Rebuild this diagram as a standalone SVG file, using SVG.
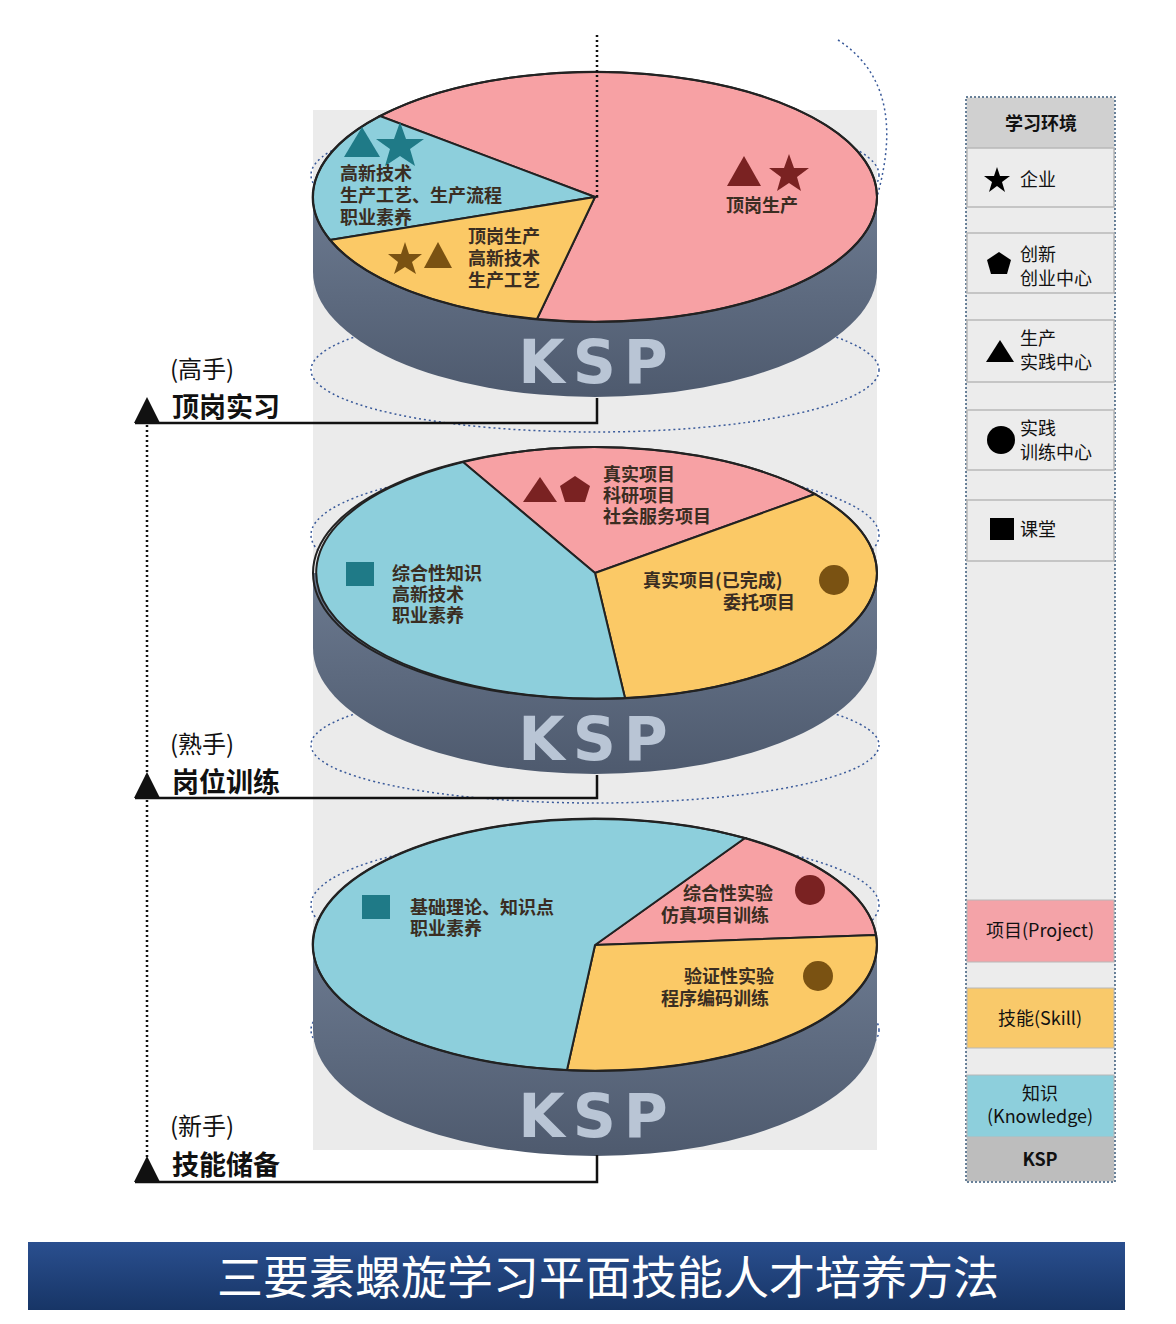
<svg xmlns="http://www.w3.org/2000/svg" width="1176" height="1324" viewBox="0 0 1176 1324">
<defs>
<linearGradient id="side" x1="0" y1="0" x2="0" y2="1"><stop offset="0" stop-color="#6c7a90"/><stop offset="1" stop-color="#4e5a6e"/></linearGradient>
<linearGradient id="ban" x1="0" y1="0" x2="0" y2="1"><stop offset="0" stop-color="#2a4f8f"/><stop offset="1" stop-color="#173566"/></linearGradient>
<style>
.sl{stroke:#222;stroke-width:2}
.pk{fill:#f7a1a4}.cy{fill:#8dcfdc}.yl{fill:#fbc966}
.t{font-family:"Noto Sans CJK SC",sans-serif;font-weight:bold;font-size:18px;fill:#3a2d22}
.ksp{font-family:"DejaVu Sans",sans-serif;font-weight:bold;font-size:60px;fill:#b9c5d5;letter-spacing:8px;text-anchor:middle}
.dot{fill:none;stroke:#3a5a9a;stroke-width:1.5;stroke-dasharray:2 3}
.lg{font-family:"Noto Sans CJK SC",sans-serif;font-size:18px;fill:#111}
.lab{font-family:"Noto Sans CJK SC",sans-serif;font-size:24px;fill:#111}
.labb{font-family:"Noto Sans CJK SC",sans-serif;font-size:27px;font-weight:bold;fill:#111}
.box{fill:#ececec;stroke:#b8b8b8;stroke-width:1.5}
</style>
</defs>
<rect width="1176" height="1324" fill="#fff"/>
<rect x="313" y="110" width="564" height="1040" fill="#ebebeb"/>
<g id="spiral">
<path class="dot" d="M838,40 C900,80 890,150 877,197"/>
<ellipse class="dot" cx="595" cy="175" rx="284" ry="65"/>
<ellipse class="dot" cx="595" cy="370" rx="284" ry="62"/>
<ellipse class="dot" cx="595" cy="535" rx="284" ry="70"/>
<ellipse class="dot" cx="595" cy="745" rx="284" ry="58"/>
<ellipse class="dot" cx="595" cy="905" rx="284" ry="70"/>
<ellipse class="dot" cx="595" cy="1030" rx="284" ry="65"/>
</g>
<g id="disc-top">
<path d="M313,197 L313,272 A282,125 0 0 0 877,272 L877,197 Z" fill="url(#side)"/>
<text class="ksp" x="597" y="383">KSP</text>
<path class="pk sl" d="M595,197 L380,116 A282,125 0 0 1 877,197 A282,125 0 0 1 537,319 Z"/>
<path class="cy sl" d="M595,197 L380,116 A282,125 0 0 0 330,240 Z"/>
<path class="yl sl" d="M595,197 L330,240 A282,125 0 0 0 537,319 Z"/>
<ellipse cx="595" cy="197" rx="282" ry="125" fill="none" stroke="#222" stroke-width="2"/>
<polygon points="362,127 344,157 380,157" fill="#1f7a87"/>
<polygon points="400,127 406,144 424,144 410,154 415,171 400,161 385,171 390,154 376,144 394,144" fill="#1f7a87" transform="translate(0,-5)"/>
<text class="t" x="340" y="180">高新技术</text>
<text class="t" x="340" y="202">生产工艺、生产流程</text>
<text class="t" x="340" y="224">职业素养</text>
<polygon points="405,242 409,254 422,254 412,262 416,274 405,267 394,274 398,262 388,254 401,254" fill="#7a5212"/>
<polygon points="438,242 424,268 452,268" fill="#7a5212"/>
<text class="t" x="468" y="243">顶岗生产</text>
<text class="t" x="468" y="265">高新技术</text>
<text class="t" x="468" y="287">生产工艺</text>
<polygon points="744,156 727,186 761,186" fill="#7a2222"/>
<polygon points="789,154 794,168 809,168 797,177 801,191 789,183 777,191 781,177 769,168 784,168" fill="#7a2222"/>
<text class="t" x="726" y="212">顶岗生产</text>
</g>
<g id="disc-mid">
<path d="M313,573 L313,648 A282,126 0 0 0 877,648 L877,573 Z" fill="url(#side)"/>
<text class="ksp" x="597" y="760">KSP</text>
<path class="pk sl" d="M595,573 L463,462 A282,126 0 0 1 815,494 Z"/>
<path class="yl sl" d="M595,573 L815,494 A282,126 0 0 1 625,698 Z"/>
<path class="cy sl" d="M595,573 L625,698 A282,126 0 0 1 463,462 Z"/>
<ellipse cx="595" cy="573" rx="282" ry="126" fill="none" stroke="#222" stroke-width="2"/>
<polygon points="540,477 523,502 557,502" fill="#7a2222"/>
<polygon points="575,476 590,486 585,502 565,502 560,486" fill="#7a2222"/>
<text class="t" x="603" y="481">真实项目</text>
<text class="t" x="603" y="502">科研项目</text>
<text class="t" x="603" y="523">社会服务项目</text>
<rect x="346" y="562" width="28" height="24" fill="#1f7a87"/>
<text class="t" x="392" y="580">综合性知识</text>
<text class="t" x="392" y="601">高新技术</text>
<text class="t" x="392" y="622">职业素养</text>
<text class="t" x="643" y="587">真实项目(已完成)</text>
<text class="t" x="723" y="609">委托项目</text>
<circle cx="834" cy="580" r="15" fill="#7a5212"/>
</g>
<g id="disc-bot">
<path d="M313,945 L313,1030 A282,126 0 0 0 877,1030 L877,945 Z" fill="url(#side)"/>
<text class="ksp" x="597" y="1137">KSP</text>
<path class="pk sl" d="M595,945 L745,838 A282,126 0 0 1 876,935 Z"/>
<path class="yl sl" d="M595,945 L876,935 A282,126 0 0 1 567,1070 Z"/>
<path class="cy sl" d="M595,945 L567,1070 A282,126 0 1 1 745,838 Z"/>
<ellipse cx="595" cy="945" rx="282" ry="126" fill="none" stroke="#222" stroke-width="2"/>
<rect x="362" y="895" width="28" height="24" fill="#1f7a87"/>
<text class="t" x="410" y="914">基础理论、知识点</text>
<text class="t" x="410" y="935">职业素养</text>
<text class="t" x="683" y="900">综合性实验</text>
<text class="t" x="661" y="922">仿真项目训练</text>
<circle cx="810" cy="890" r="15" fill="#7a2222"/>
<text class="t" x="684" y="983">验证性实验</text>
<text class="t" x="661" y="1005">程序编码训练</text>
<circle cx="818" cy="976" r="15" fill="#7a5212"/>
</g>
<g id="connectors" fill="none">
<path d="M597,35 V197" stroke="#111" stroke-width="2.5" stroke-dasharray="2 3"/>
<path d="M147,415 V1170" stroke="#111" stroke-width="2.5" stroke-dasharray="2 3"/>
<path d="M135,423 H597 V398 M135,798 H597 V775 M135,1182 H597 V1155" stroke="#111" stroke-width="2.5"/>
</g>
<g id="stages">
<polygon points="147,397 134,423 160,423" fill="#111"/>
<polygon points="147,772 134,798 160,798" fill="#111"/>
<polygon points="147,1156 134,1182 160,1182" fill="#111"/>
<text class="lab" x="170" y="378">(高手)</text>
<text class="labb" x="172" y="417">顶岗实习</text>
<text class="lab" x="170" y="753">(熟手)</text>
<text class="labb" x="172" y="792">岗位训练</text>
<text class="lab" x="170" y="1135">(新手)</text>
<text class="labb" x="172" y="1175">技能储备</text>
</g>
<g id="legend">
<rect x="966" y="97" width="149" height="1085" fill="#ececec" stroke="#3a5a7a" stroke-width="1.5" stroke-dasharray="2 2"/>
<rect x="967" y="98" width="147" height="50" fill="#d0d0d0"/>
<text class="lg" x="1041" y="130" text-anchor="middle" font-weight="bold" fill="#444">学习环境</text>
<rect class="box" x="967" y="148" width="147" height="59"/>
<polygon points="997,167 1000,176 1010,176 1002,182 1005,192 997,186 989,192 992,182 984,176 994,176" fill="#000"/>
<text class="lg" x="1020" y="186">企业</text>
<rect class="box" x="967" y="233" width="147" height="60"/>
<polygon points="999,252 1011,260 1007,274 991,274 987,260" fill="#000"/>
<text class="lg" x="1020" y="261">创新</text><text class="lg" x="1020" y="285">创业中心</text>
<rect class="box" x="967" y="320" width="147" height="62"/>
<polygon points="1000,340 986,362 1014,362" fill="#000"/>
<text class="lg" x="1020" y="345">生产</text><text class="lg" x="1020" y="369">实践中心</text>
<rect class="box" x="967" y="410" width="147" height="60"/>
<circle cx="1001" cy="440" r="14" fill="#000"/>
<text class="lg" x="1020" y="435">实践</text><text class="lg" x="1020" y="459">训练中心</text>
<rect class="box" x="967" y="500" width="147" height="61"/>
<rect x="990" y="518" width="24" height="22" fill="#000"/>
<text class="lg" x="1020" y="536">课堂</text>
<rect x="967" y="900" width="147" height="62" fill="#f4a3a8" stroke="#b8b8b8"/>
<text class="lg" x="1040" y="937" text-anchor="middle">项目(Project)</text>
<rect x="967" y="988" width="147" height="60" fill="#f9c96a" stroke="#b8b8b8"/>
<text class="lg" x="1040" y="1025" text-anchor="middle">技能(Skill)</text>
<rect x="967" y="1075" width="147" height="62" fill="#8dcfdc" stroke="#b8b8b8"/>
<text class="lg" x="1040" y="1100" text-anchor="middle">知识</text>
<text class="lg" x="1040" y="1123" text-anchor="middle">(Knowledge)</text>
<rect x="967" y="1137" width="147" height="44" fill="#bdbdbd"/>
<text class="lg" x="1040" y="1166" text-anchor="middle" font-weight="bold" fill="#444">KSP</text>
</g>
<g id="title">
<rect x="28" y="1242" width="1097" height="68" fill="url(#ban)"/>
<text x="608" y="1294" text-anchor="middle" font-family="Noto Sans CJK SC,sans-serif" font-size="46" fill="#fff">三要素螺旋学习平面技能人才培养方法</text>
</g>
</svg>
